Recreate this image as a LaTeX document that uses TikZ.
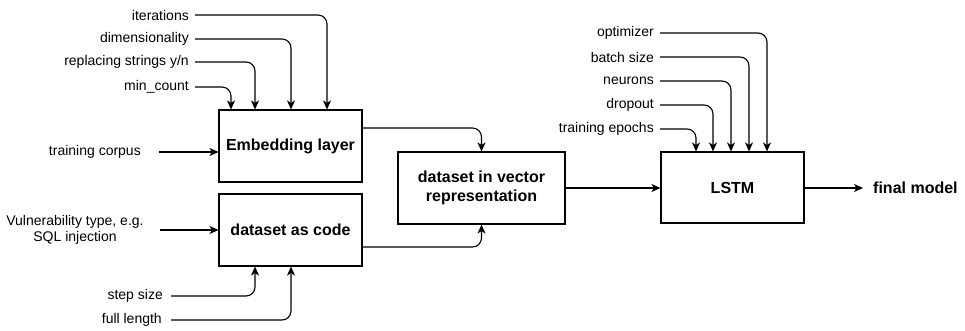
\documentclass[tikz,border=0pt]{standalone}
\usepackage{fontspec}
\setmainfont{Liberation Sans}
\usetikzlibrary{arrows.meta}
\begin{document}
\begin{tikzpicture}[x=1pt,y=-1pt,
  every node/.style={font=\fontsize{14}{16}\selectfont},
  blk/.style={draw,line width=1.1pt,inner sep=0pt,font=\fontsize{16}{19}\selectfont\bfseries,align=center},
  lbl/.style={anchor=east,inner xsep=6pt,inner ysep=0pt},
  rlbl/.style={anchor=west,inner xsep=0pt,inner ysep=0pt},
  con/.style={line width=1.1pt,rounded corners=9pt,-{Stealth[length=9pt,width=8pt,inset=2.5pt]}}
]
\useasboundingbox (0,0) rectangle (965,330);
% blocks
\node[blk,minimum width=143pt,minimum height=72pt] (emb) at (290.5,146) {Embedding layer};
\node[blk,minimum width=143pt,minimum height=72pt] (code) at (290.5,230) {dataset as code};
\node[blk,minimum width=167pt,minimum height=72pt] (vec) at (481.5,188) {dataset in vector\\representation};
\node[blk,minimum width=143pt,minimum height=71pt] (lstm) at (732.5,187.5) {LSTM};
% embedding parameters
\node[lbl] (it) at (195,15) {iterations};
\node[lbl] (dim) at (195,39) {dimensionality};
\node[lbl] (rep) at (195,62) {replacing strings y/n};
\node[lbl] (mc) at (195,87) {min\_count};
\draw[con] (it.east) -| (327,0 |- emb.north);
\draw[con] (dim.east) -| (291,0 |- emb.north);
\draw[con] (rep.east) -| (255,0 |- emb.north);
\draw[con] (mc.east) -| (231,0 |- emb.north);
% left inputs
\node[lbl,inner xsep=0pt] (tc) at (141,152) {training corpus};
\draw[con] (tc.east) ++(18,0) -- (emb.west |- 0,152);
\node[align=center,inner sep=0pt] (vt) at (75,230) {Vulnerability type, e.g.\\SQL injection};
\draw[con] (160,230) -- (code.west |- 0,230);
% code parameters
\node[lbl,inner xsep=0pt] (ss) at (163,296) {step size};
\node[lbl,inner xsep=0pt] (fl) at (162,320) {full length};
\draw[con] (171,296) -| (255,0 |- code.south);
\draw[con] (171,320) -| (291,0 |- code.south);
% to vector
\draw[con] (emb.east |- 0,128) -| (vec.north);
\draw[con] (code.east |- 0,247) -| (vec.south);
\draw[con] (vec.east |- 0,188) -- (lstm.west |- 0,188);
% LSTM parameters
\node[lbl] (opt) at (660,33) {optimizer};
\node[lbl] (bs) at (660,57) {batch size};
\node[lbl] (neu) at (660,81) {neurons};
\node[lbl] (dro) at (660,105) {dropout};
\node[lbl] (te) at (660,129) {training epochs};
\draw[con] (opt.east) -| (767,0 |- lstm.north);
\draw[con] (bs.east) -| (749,0 |- lstm.north);
\draw[con] (neu.east) -| (731,0 |- lstm.north);
\draw[con] (dro.east) -| (713,0 |- lstm.north);
\draw[con] (te.east) -| (696,0 |- lstm.north);
% output
\node[rlbl,font=\fontsize{16}{19}\selectfont\bfseries] (fm) at (873,188) {final model};
\draw[con] (lstm.east |- 0,188) -- (863,188);
\end{tikzpicture}
\end{document}
